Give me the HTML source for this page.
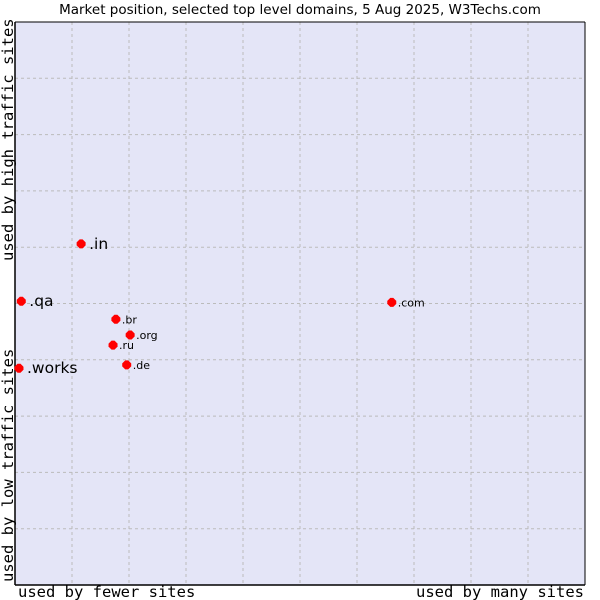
<!DOCTYPE html>
<html><head><meta charset="utf-8"><style>
body{margin:0;background:#fff;width:600px;height:600px;overflow:hidden}
svg{display:block}
</style></head><body>
<svg id="chart" width="600" height="600">
<rect x="0" y="0" width="600" height="600" fill="#fff"/>
<text x="300" y="14" text-anchor="middle" font-family="DejaVu Sans, sans-serif" font-size="13.5" fill="#000">Market position, selected top level domains, 5 Aug 2025, W3Techs.com</text>
<rect x="15" y="22" width="570" height="563" fill="#e4e5f7"/>
<g id="grid"></g>
<line x1="15" y1="22" x2="15" y2="585" stroke="#000" stroke-width="1.5"/>
<line x1="15" y1="585" x2="585" y2="585" stroke="#000" stroke-width="1.5"/>
<line x1="15" y1="22" x2="585" y2="22" stroke="#000" stroke-width="1"/>
<line x1="585" y1="22" x2="585" y2="585" stroke="#000" stroke-width="1"/>
<g id="points"></g>
<text x="18" y="597" font-family="DejaVu Sans Mono, monospace" font-size="15.5">used by fewer sites</text>
<text x="584" y="597" text-anchor="end" font-family="DejaVu Sans Mono, monospace" font-size="15.5">used by many sites</text>
<text transform="translate(13,582) rotate(-90)" font-family="DejaVu Sans Mono, monospace" font-size="15.5">used by low traffic sites</text>
<text transform="translate(13,261) rotate(-90)" font-family="DejaVu Sans Mono, monospace" font-size="15.5">used by high traffic sites</text>
</svg>
<script>
const domains=['.in','.qa','.com','.br','.org','.ru','.works','.de'];
const usageValues=[11.6,1.1,66.1,17.7,20.2,17.2,0.7,19.6];
const trafficValues=[60.6,50.4,50.2,47.2,44.4,42.6,38.5,39.1];
const labelBig=[true,true,false,false,false,false,true,false];
const NS='http://www.w3.org/2000/svg';
const X0=15,X1=585,Y0=585,Y1=22;
function sx(v){return X0+(X1-X0)*v/100;}
function sy(v){return Y0-(Y0-Y1)*v/100;}
const grid=document.getElementById('grid');
for(let i=1;i<10;i++){
  const v=document.createElementNS(NS,'line');
  
  
  v.setAttribute('x1',sx(i*10));v.setAttribute('x2',sx(i*10));v.setAttribute('y1',Y1);v.setAttribute('y2',Y0);
  v.setAttribute('stroke','#bbb');v.setAttribute('stroke-dasharray','3,3');grid.appendChild(v);
  const h=document.createElementNS(NS,'line');
  
  
  h.setAttribute('y1',sy(i*10));h.setAttribute('y2',sy(i*10));h.setAttribute('x1',X0);h.setAttribute('x2',X1);
  h.setAttribute('stroke','#bbb');h.setAttribute('stroke-dasharray','3,3');grid.appendChild(h);
}
const pts=document.getElementById('points');
domains.forEach((d,i)=>{
  const x=sx(usageValues[i]),y=sy(trafficValues[i]);
  const p=document.createElementNS(NS,'path');
  
  
  p.setAttribute('d',`M${x-4.5} ${y-1.5}L${x-1.5} ${y-4.5}L${x+1.5} ${y-4.5}L${x+4.5} ${y-1.5}L${x+4.5} ${y+1.5}L${x+1.5} ${y+4.5}L${x-1.5} ${y+4.5}L${x-4.5} ${y+1.5}Z`);
  p.setAttribute('fill','#f00');pts.appendChild(p);
  const t=document.createElementNS(NS,'text');
  
  
  const big=labelBig[i];
  t.setAttribute('x',x+(big?8:6));t.setAttribute('y',y+(big?5:4));
  t.setAttribute('font-family','DejaVu Sans, sans-serif');
  t.setAttribute('font-size',big?15.5:11);
  t.textContent=d;pts.appendChild(t);
});
</script>
</body></html>
